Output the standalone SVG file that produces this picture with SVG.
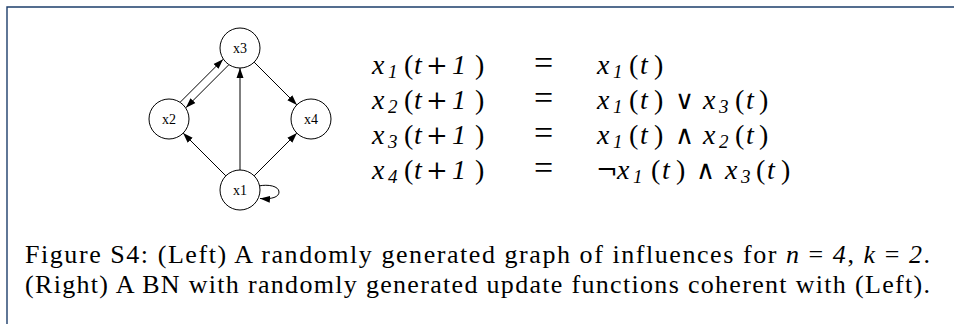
<svg xmlns="http://www.w3.org/2000/svg" width="954" height="324" viewBox="0 0 954 324">
<style>
.frame{stroke:#1d3e6b;stroke-width:1.4;fill:none}
.node circle{fill:#fff;stroke:#000;stroke-width:1}
.node text{font-family:"Liberation Serif","Times New Roman",serif;font-size:14px;text-anchor:middle;fill:#000}
.edge{stroke:#000;stroke-width:1;fill:none;marker-end:url(#ah)}
.m{font-family:"Liberation Serif","DejaVu Serif",serif;font-size:28px;fill:#000}
.i{font-style:italic}
.s{font-style:italic;font-size:19px}
.op{font-family:"DejaVu Serif","Liberation Serif",serif;font-size:26px}
.eq{font-family:"Liberation Serif",serif;font-size:34px}
.cap{font-family:"Liberation Serif","Times New Roman",serif;font-size:26px;fill:#000}
</style>
<defs>
<marker id="ah" markerUnits="userSpaceOnUse" markerWidth="10" markerHeight="8" refX="10" refY="3.5" orient="auto" viewBox="0 0 10 7">
<path d="M0,0 L10,3.5 L0,7 z" fill="#000"/>
</marker>
</defs>
<path class="frame" d="M7,324 V7 H954"/>
<g id="connectors">
<line class="edge" x1="240" y1="170" x2="240" y2="68"/>
<line class="edge" x1="225.9" y1="175.9" x2="183.1" y2="133.1"/>
<line class="edge" x1="254.1" y1="175.9" x2="296.9" y2="133.1"/>
<line class="edge" x1="254.1" y1="62.1" x2="296.9" y2="104.9"/>
<line class="edge" x1="180.3" y1="102.1" x2="223.1" y2="59.3"/>
<line class="edge" x1="228.7" y1="64.9" x2="185.9" y2="107.7"/>
<path class="edge" d="M258.7,186 C268,184 279,186 279,192 C279,197 272,199.5 260,198.5"/>
</g>
<g id="x3" class="node"><circle cx="240" cy="48" r="20"/><text x="240" y="53">x3</text></g>
<g id="x2" class="node"><circle cx="169" cy="119" r="20"/><text x="169" y="124">x2</text></g>
<g id="x4" class="node"><circle cx="311" cy="119" r="20"/><text x="311" y="124">x4</text></g>
<g id="x1" class="node"><circle cx="240" cy="190" r="20"/><text x="240" y="195">x1</text></g>
<g id="equations" class="m">
<text y="74"><tspan class="i" x="372">x</tspan><tspan class="s" x="388" dy="4">1</tspan><tspan x="404" dy="-4">(</tspan><tspan class="i" x="414">t</tspan><tspan class="op" x="426">+</tspan><tspan class="i" x="452">1</tspan><tspan x="475">)</tspan><tspan class="eq" x="534">=</tspan><tspan class="i" x="597">x</tspan><tspan class="s" x="613" dy="4">1</tspan><tspan x="629" dy="-4">(</tspan><tspan class="i" x="640">t</tspan><tspan x="654">)</tspan></text>
<text y="109"><tspan class="i" x="372">x</tspan><tspan class="s" x="388" dy="4">2</tspan><tspan x="404" dy="-4">(</tspan><tspan class="i" x="414">t</tspan><tspan class="op" x="426">+</tspan><tspan class="i" x="452">1</tspan><tspan x="475">)</tspan><tspan class="eq" x="534">=</tspan><tspan class="i" x="597">x</tspan><tspan class="s" x="613" dy="4">1</tspan><tspan x="629" dy="-4">(</tspan><tspan class="i" x="640">t</tspan><tspan x="654">)</tspan><tspan class="op" x="675">∨</tspan><tspan class="i" x="703">x</tspan><tspan class="s" x="719" dy="4">3</tspan><tspan x="735" dy="-4">(</tspan><tspan class="i" x="746">t</tspan><tspan x="759">)</tspan></text>
<text y="144"><tspan class="i" x="372">x</tspan><tspan class="s" x="388" dy="4">3</tspan><tspan x="404" dy="-4">(</tspan><tspan class="i" x="414">t</tspan><tspan class="op" x="426">+</tspan><tspan class="i" x="452">1</tspan><tspan x="475">)</tspan><tspan class="eq" x="534">=</tspan><tspan class="i" x="597">x</tspan><tspan class="s" x="613" dy="4">1</tspan><tspan x="629" dy="-4">(</tspan><tspan class="i" x="640">t</tspan><tspan x="654">)</tspan><tspan class="op" x="675">∧</tspan><tspan class="i" x="703">x</tspan><tspan class="s" x="719" dy="4">2</tspan><tspan x="735" dy="-4">(</tspan><tspan class="i" x="746">t</tspan><tspan x="759">)</tspan></text>
<text y="179"><tspan class="i" x="372">x</tspan><tspan class="s" x="388" dy="4">4</tspan><tspan x="404" dy="-4">(</tspan><tspan class="i" x="414">t</tspan><tspan class="op" x="426">+</tspan><tspan class="i" x="452">1</tspan><tspan x="475">)</tspan><tspan class="eq" x="534">=</tspan><tspan class="op" x="596">¬</tspan><tspan class="i" x="617">x</tspan><tspan class="s" x="633" dy="4">1</tspan><tspan x="651" dy="-4">(</tspan><tspan class="i" x="662">t</tspan><tspan x="676">)</tspan><tspan class="op" x="696">∧</tspan><tspan class="i" x="725">x</tspan><tspan class="s" x="741" dy="4">3</tspan><tspan x="756" dy="-4">(</tspan><tspan class="i" x="767">t</tspan><tspan x="781">)</tspan></text>
</g>
<g id="caption" class="cap">
<text x="25" y="263" textLength="905" lengthAdjust="spacing">Figure S4: (Left) A randomly generated graph of influences for <tspan class="i">n</tspan> = <tspan class="i">4</tspan>, <tspan class="i">k</tspan> = <tspan class="i">2</tspan>.</text>
<text x="25" y="293" textLength="905" lengthAdjust="spacing">(Right) A BN with randomly generated update functions coherent with (Left).</text>
</g>
</svg>
